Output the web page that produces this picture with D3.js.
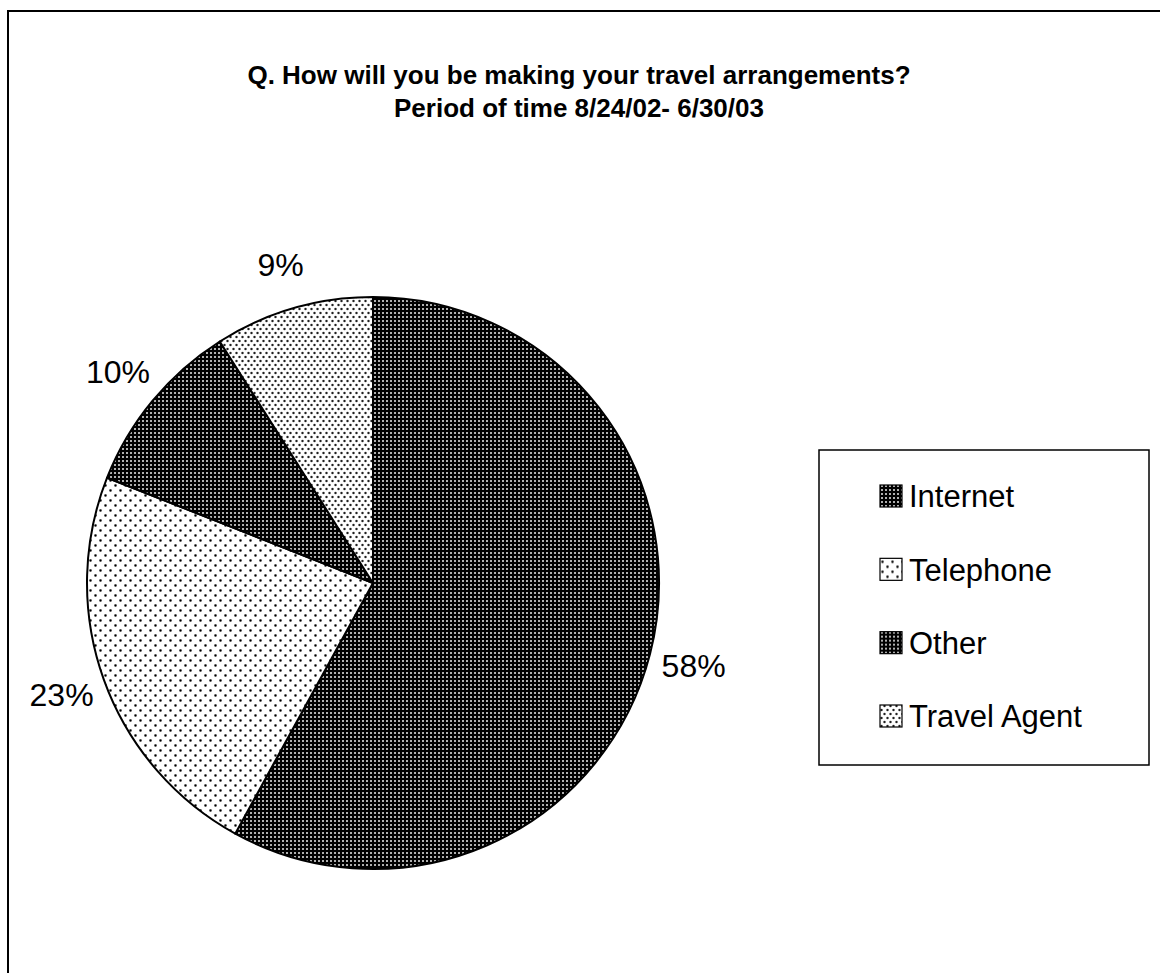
<!DOCTYPE html>
<html>
<head>
<meta charset="utf-8">
<script src="https://cdn.jsdelivr.net/npm/d3@7"></script>
<style>
  html, body { margin: 0; padding: 0; background: #fff; }
  svg { display: block; }
  text { font-family: Arial, "Liberation Sans", sans-serif; }
</style>
</head>
<body>
<svg id="chart" width="1160" height="973"></svg>
<script>
// Survey answers, share of respondents
const categories = ["Internet", "Telephone", "Other", "Travel Agent"];
const values = [58, 23, 10, 9];
const valueLabels = ["58%", "23%", "10%", "9%"];
const titleLines = [
  "Q. How will you be making your travel arrangements?",
  "Period of time 8/24/02- 6/30/03"
];

const W = 1160, H = 973;
const svg = d3.select("#chart");
const defs = svg.append("defs");

// Fill patterns: dark checker for Internet/Other, sparse and dense dots for the others
function darkPattern(id) {
  const p = defs.append("pattern").attr("id", id)
    .attr("patternUnits", "userSpaceOnUse").attr("width", 4).attr("height", 4);
  p.append("rect").attr("width", 4).attr("height", 4).attr("fill", "#000");
  p.append("rect").attr("x", 1).attr("y", 1).attr("width", 2).attr("height", 2).attr("fill", "#9a9a9a");
  p.append("rect").attr("x", 1.5).attr("y", 1.5).attr("width", 1).attr("height", 1).attr("fill", "#eee");
}
function dotPattern(id, w, h, r) {
  const p = defs.append("pattern").attr("id", id)
    .attr("patternUnits", "userSpaceOnUse").attr("width", w).attr("height", h);
  p.append("rect").attr("width", w).attr("height", h).attr("fill", "#fff");
  [[w / 4, h / 4], [3 * w / 4, 3 * h / 4]].forEach(([cx, cy]) => {
    p.append("circle").attr("cx", cx).attr("cy", cy).attr("r", r).attr("fill", "#555");
    p.append("circle").attr("cx", cx).attr("cy", cy).attr("r", r * 0.55).attr("fill", "#000");
  });
}
darkPattern("pat-internet");
dotPattern("pat-telephone", 10, 10, 1.4);
darkPattern("pat-other");
dotPattern("pat-agent", 6, 8, 1.3);
const fills = d3.scaleOrdinal().domain(categories)
  .range(["url(#pat-internet)", "url(#pat-telephone)", "url(#pat-other)", "url(#pat-agent)"]);

// Outer frame (open on the right and bottom)
svg.append("path")
  .attr("d", `M8,${H} L8,11 L${W},11`)
  .attr("fill", "none").attr("stroke", "#000").attr("stroke-width", 2);

// Title
const title = svg.append("text").attr("text-anchor", "middle")
  .attr("font-size", 26).attr("font-weight", "bold");
titleLines.forEach((t, i) => {
  title.append("tspan").attr("x", 579).attr("y", 84 + i * 33).text(t);
});

// Pie
const cx = 373, cy = 583, R = 286;
const pie = d3.pie().sort(null).value(d => d.value);
const arcs = pie(categories.map((c, i) => ({ name: c, value: values[i], label: valueLabels[i] })));
const arc = d3.arc().innerRadius(0).outerRadius(R);
const labelArc = d3.arc().innerRadius(R + 45).outerRadius(R + 45);

const g = svg.append("g").attr("transform", `translate(${cx},${cy})`);
g.selectAll("path.slice").data(arcs).join("path")
  .attr("class", "slice")
  .attr("d", arc)
  .attr("fill", d => fills(d.data.name))
  .attr("stroke", "#000").attr("stroke-width", 2).attr("stroke-linejoin", "round");

g.selectAll("text.val").data(arcs).join("text")
  .attr("class", "val")
  .attr("transform", d => {
    const [x, y] = labelArc.centroid(d);
    return `translate(${x},${y})`;
  })
  .attr("text-anchor", "middle").attr("dy", "0.35em")
  .attr("font-size", 32)
  .text(d => d.data.label);

// Legend
const lx = 819, ly = 450, lw = 330, lh = 315;
svg.append("rect").attr("x", lx).attr("y", ly).attr("width", lw).attr("height", lh)
  .attr("fill", "#fff").attr("stroke", "#000").attr("stroke-width", 1.5);
const ly0 = d3.scalePoint().domain(categories).range([496, 716]);
const leg = svg.append("g").selectAll("g").data(categories).join("g")
  .attr("transform", d => `translate(880,${ly0(d)})`);
leg.append("rect").attr("x", 0).attr("y", -11).attr("width", 22).attr("height", 22)
  .attr("fill", d => fills(d)).attr("stroke", "#000").attr("stroke-width", 1.2);
leg.append("text").attr("x", 29).attr("dy", "0.36em")
  .attr("font-size", 31).text(d => d);
</script>
</body>
</html>
